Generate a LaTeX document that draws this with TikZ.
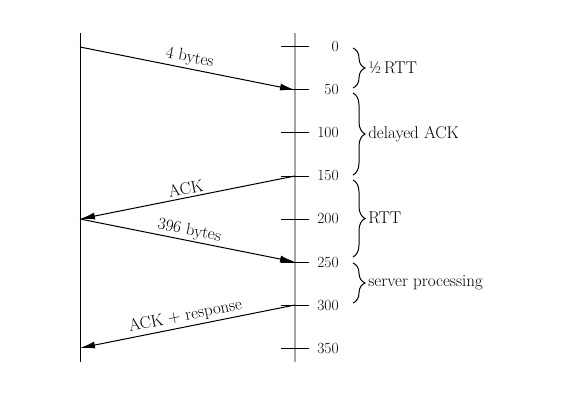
\documentclass[tikz,border=0pt]{standalone}
\usetikzlibrary{arrows.meta,decorations.pathreplacing}
\tikzset{
  msg/.style={line width=1pt,-{Latex[length=15pt,width=7pt]}},
  lbl/.style={font=\fontsize{17}{20}\selectfont},
  num/.style={font=\fontsize{15.5}{18}\selectfont},
  brc/.style={decorate,decoration={brace,amplitude=12pt},line width=1pt},
}
\begin{document}
\begin{tikzpicture}[x=1pt,y=-1pt,semithick]
\useasboundingbox (0,0) rectangle (581,401);
% client and server time lines
\draw[line width=0.9pt](80,33)--(80,362);
\draw[gray!70,line width=1.6pt](295,33)--(295,362);
\foreach \t in {0,50,...,350}{
  \coordinate(c\t)at(80,47+0.86*\t);
  \coordinate(s\t)at(295,47+0.86*\t);
  \draw[line width=1pt](s\t)++(-14,0)--++(28,0);
  \node[num,anchor=east,inner sep=0pt](n\t)at(339,47+0.86*\t){\t};
}
% segments
\draw[msg](c0)--node[lbl,above,sloped,inner sep=2.5pt](m1){4 bytes}(s50);
\draw[msg](s150)--node[lbl,above,sloped,inner sep=2.5pt](m2){ACK}(c200);
\draw[msg](c200)--node[lbl,above,sloped,inner sep=1.5pt](m3){396 bytes}(s250);
\draw[msg](s300)--node[lbl,above,sloped,inner sep=2.5pt](m4){ACK + response}(c350);
% intervals
\draw[brc](353,48)--(353,88);
\draw[brc](353,93)--(353,175);
\draw[brc](353,180)--(353,257);
\draw[brc](353,263)--(353,303);
\node[lbl,anchor=west,inner sep=0pt](b1)at(368,68){½\,RTT};
\node[lbl,anchor=west,inner sep=0pt](b2)at(368,134){delayed ACK};
\node[lbl,anchor=west,inner sep=0pt](b3)at(368,218){RTT};
\node[lbl,anchor=west,inner sep=0pt](b4)at(368,283){server processing};
\end{tikzpicture}
\end{document}
